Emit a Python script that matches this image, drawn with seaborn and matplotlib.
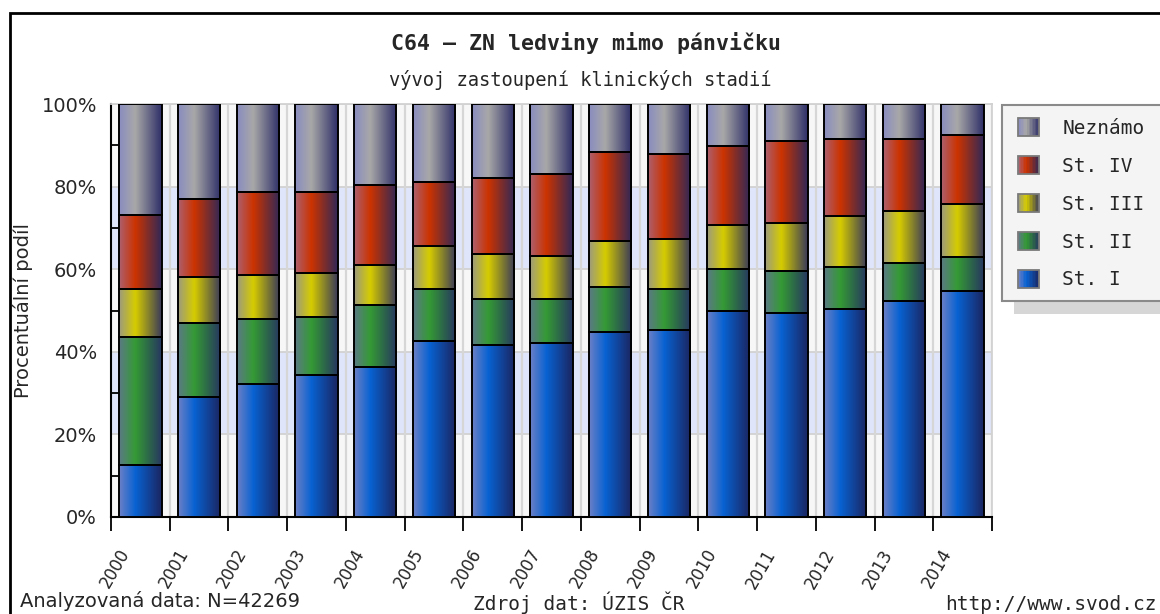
import numpy as np
import matplotlib
matplotlib.use("Agg")
import matplotlib.pyplot as plt
import seaborn as sns
from matplotlib.colors import LinearSegmentedColormap
from matplotlib.patches import Rectangle, Patch
from matplotlib.legend_handler import HandlerBase
from matplotlib.font_manager import FontProperties
import matplotlib.transforms as mtransforms

# ---------------- data ----------------
years = [str(y) for y in range(2000, 2015)]
st_1 = [12.5, 29.1, 32.1, 34.5, 36.4, 42.7, 41.7, 42.2, 44.7, 45.2, 50.0, 49.4, 50.4, 52.4, 54.8]
st_2 = [31.0, 17.9, 15.9, 14.0, 15.0, 12.6, 11.1, 10.6, 11.1, 10.1, 10.1, 10.2, 10.2, 9.2, 8.2]
st_3 = [11.7, 11.2, 10.7, 10.7, 9.7, 10.2, 10.8, 10.3, 11.1, 12.1, 10.7, 11.7, 12.2, 12.6, 12.7]
st_4 = [18.0, 18.9, 19.9, 19.4, 19.4, 15.6, 18.4, 19.9, 21.4, 20.5, 19.0, 19.8, 18.8, 17.4, 16.9]
neznamo = [26.8, 22.9, 21.4, 21.4, 19.5, 18.9, 18.0, 17.0, 11.7, 12.1, 10.2, 8.9, 8.4, 8.4, 7.4]
series_names = ["St. I", "St. II", "St. III", "St. IV", "Neznámo"]
yticks = [0, 20, 40, 60, 80, 100]
ytick_labels = ["0%", "20%", "40%", "60%", "80%", "100%"]

title = "C64 – ZN ledviny mimo pánvičku"
subtitle = "vývoj zastoupení klinických stadií"
ylabel = "Procentuální podíl"
note_left = "Analyzovaná data: N=42269"
note_mid = "Zdroj dat: ÚZIS ČR"
note_right = "http://www.svod.cz"

# gradient stops (left, base, right) per series
grad_stops = {
    "St. I":   ["#6c80c6", "#0862d2", "#1b2560"],
    "St. II":  ["#5c7a86", "#349a34", "#263660"],
    "St. III": ["#9c9a7e", "#d6cc00", "#38385a"],
    "St. IV":  ["#ac6070", "#cc3300", "#2e2858"],
    "Neznámo": ["#8a8cc0", "#a8a8a8", "#2e2e68"],
}
cmaps = {k: LinearSegmentedColormap.from_list(k, [(0, v[0]), (0.38, v[1]), (1, v[2])])
         for k, v in grad_stops.items()}

# ---------------- figure ----------------
sns.set_theme(style="white")
plt.rcParams["font.family"] = ["DejaVu Sans"]

W, H = 1160, 614
fig = plt.figure(figsize=(W / 100, H / 100), dpi=100)
fig.patch.set_facecolor("white")
ax = fig.add_axes([111 / W, 1 - 517 / H, (992 - 111) / W, (517 - 104) / H])

values = [st_1, st_2, st_3, st_4, neznamo]
vals = np.array(values, dtype=float)
cum = np.cumsum(vals, axis=0)
lower = cum - vals

patch_groups = {}
for k in reversed(range(5)):
    n0 = len(ax.patches)
    sns.barplot(x=years, y=cum[k], ax=ax, width=0.72, color=grad_stops[series_names[k]][1],
                edgecolor="black", linewidth=1.4, errorbar=None)
    patch_groups[k] = sorted(ax.patches[n0:], key=lambda p: p.get_x())

for k, patches in patch_groups.items():
    for i, p in enumerate(patches):
        p.set_y(lower[k][i])
        p.set_height(vals[k][i])
        p.set_facecolor("none")
        p.set_zorder(4)
        x0, w = p.get_x(), p.get_width()
        ax.imshow(np.linspace(0, 1, 256).reshape(1, -1), cmap=cmaps[series_names[k]],
                  extent=[x0, x0 + w, lower[k][i], lower[k][i] + vals[k][i]],
                  aspect="auto", interpolation="bilinear", zorder=3)

ax.set_xlim(-0.5, len(years) - 0.5)
ax.set_ylim(0, 100)
ax.set_aspect("auto")

# background
ax.set_facecolor("#f7f7f7")
for lo, hi in [(20, 40), (60, 80)]:
    ax.axhspan(lo, hi, color="#dfe6fb", zorder=0.5, lw=0)
for y in [20, 40, 60, 80, 100]:
    ax.axhline(y, color="#d2d2d2", lw=1.3, zorder=1)
for i in range(1, len(years) + 1):
    ax.axvline(i - 0.5, color="#d6d6d6", lw=1.6, zorder=1)

for s in ["left", "bottom"]:
    ax.spines[s].set_color("black")
    ax.spines[s].set_linewidth(1.5)
for s in ["top", "right"]:
    ax.spines[s].set_color("#d2d2d2")
    ax.spines[s].set_linewidth(1.3)

ax.set_yticks(yticks)
ax.set_yticklabels(ytick_labels, fontsize=14)
ax.set_yticks([10, 30, 50, 70, 90], minor=True)
ax.tick_params(axis="y", which="major", length=0, pad=10)
ax.tick_params(axis="y", which="minor", direction="in", length=6, width=1.3, color="black", left=True)

ax.set_xticks(range(len(years)))
ax.set_xticklabels(years, fontsize=12, rotation=60, ha="right", va="center", rotation_mode="anchor")
ax.set_xticks(np.arange(-0.5, len(years)), minor=True)
ax.tick_params(axis="x", which="major", length=0, pad=24)
ax.tick_params(axis="x", which="minor", direction="out", length=10, width=1.3, color="black", bottom=True)
offset = mtransforms.ScaledTranslation(-15 / 100, 0, fig.dpi_scale_trans)
for lbl in ax.get_xticklabels():
    lbl.set_transform(lbl.get_transform() + offset)

ax.set_xlabel("")
ax.set_ylabel(ylabel, fontsize=14, labelpad=8)
ax.yaxis.set_label_coords(-0.088, 0.5)

# ---------------- texts ----------------
mono = "DejaVu Sans Mono"
fig.text(586 / W, 1 - 50 / H, title, ha="center", va="baseline", family=mono,
         fontweight="bold", fontsize=15.5)
fig.text(580 / W, 1 - 86 / H, subtitle, ha="center", va="baseline", family=mono, fontsize=13.5)
fig.text(20 / W, 1 - 607 / H, note_left, ha="left", va="baseline", fontsize=14)
fig.text(473 / W, 1 - 610 / H, note_mid, ha="left", va="baseline", family=mono, fontsize=14)
fig.text(945 / W, 1 - 610 / H, note_right, ha="left", va="baseline", family=mono, fontsize=14)

# outer frame
fig.add_artist(Rectangle((10 / W, -0.1), 1.2, 1 - 13 / H + 0.1, transform=fig.transFigure,
                         fill=False, edgecolor="black", lw=2, zorder=-1))

# ---------------- legend ----------------
fig.add_artist(Rectangle((1014 / W, 1 - 314 / H), 0.2, (314 - 120) / H, transform=fig.transFigure,
                         facecolor="#d6d6d6", edgecolor="none", zorder=-2))
fig.add_artist(Rectangle((1002 / W, 1 - 301 / H), 0.2, (301 - 105) / H, transform=fig.transFigure,
                         facecolor="#f4f4f4", edgecolor="#8a8a8a", lw=1.5, zorder=-1))


class GradHandler(HandlerBase):
    def __init__(self, cmap):
        super().__init__()
        self.cmap = cmap

    def create_artists(self, legend, orig_handle, xdescent, ydescent, width, height, fontsize, trans):
        n = 14
        arts = []
        for j in range(n):
            arts.append(Rectangle((-xdescent + j * width / n, -ydescent), width / n + 0.3, height,
                                  facecolor=self.cmap((j + 0.5) / n), edgecolor="none", transform=trans))
        arts.append(Rectangle((-xdescent, -ydescent), width, height, fill=False,
                              edgecolor="#7a7a7a", lw=1.3, transform=trans))
        return arts


order = [4, 3, 2, 1, 0]
handles = [Patch(label=series_names[k]) for k in order]
hmap = {h: GradHandler(cmaps[series_names[k]]) for h, k in zip(handles, order)}
ax.legend(handles=handles, labels=[series_names[k] for k in order], handler_map=hmap,
          loc="upper left", bbox_to_anchor=(1018 / W, 1 - 118 / H), bbox_transform=fig.transFigure,
          frameon=False, borderpad=0, borderaxespad=0, prop=FontProperties(family=mono, size=14),
          handlelength=1.08, handleheight=1.08, handletextpad=1.2, labelspacing=0.93)

fig.savefig("out.png", dpi=100)
